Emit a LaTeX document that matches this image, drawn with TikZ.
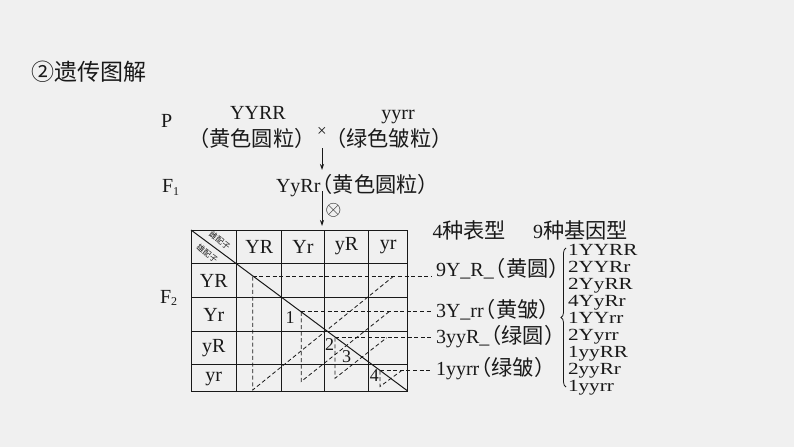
\documentclass[tikz,border=0pt]{standalone}
\usepackage{fontspec}
\setmainfont{Liberation Serif}
\newfontfamily\cjk[Scale=1.06]{Noto Sans CJK SC}
\newfontfamily\cjkt{Noto Sans CJK SC}
\usetikzlibrary{arrows.meta,decorations.pathreplacing}
\newcommand{\zh}[1]{{\cjk #1}}
\newcommand{\lp}{\hbox to 0.62em{\hss\cjk （}}
\newcommand{\rp}{\hbox to 0.62em{\cjk ）\hss}}
\definecolor{bg}{RGB}{240,240,240}
\definecolor{ink}{RGB}{25,25,25}
\tikzset{
  txt/.style={inner sep=0pt,outer sep=0pt,text=ink,font=\fontsize{20}{20}\selectfont},
  small/.style={txt,font=\fontsize{18}{18}\selectfont},
  grid/.style={draw=ink,line width=1pt},
  dsh/.style={draw=ink,line width=0.8pt,dash pattern=on 4pt off 2.6pt},
  arr/.style={draw=ink,line width=0.8pt,-{Stealth[length=6pt,width=4pt]}},
  corner/.style={inner sep=0pt,text=ink,font=\fontsize{8}{8}\selectfont\cjkt,rotate=-36.6},
  lst/.style={txt,font=\fontsize{20}{20}\selectfont,align=left,xscale=1.06,yscale=0.85},
  bracestyle/.style={draw=ink,line width=0.8pt,decorate,decoration={brace,amplitude=5pt}}
}
\begin{document}
\begin{tikzpicture}[x=1pt,y=-1pt]
\fill[bg] (0,0) rectangle (794,447);
\useasboundingbox (0,0) rectangle (794,447);
% title
\node[txt,anchor=west,font=\fontsize{23}{23}\selectfont\cjkt] (title) at (31,72) {②遗传图解};
% P generation
\node[txt,anchor=base west] (P) at (161,127.5) {P};
\node[txt,anchor=base] (p1) at (258,119.3) {YYRR};
\node[txt,anchor=west] (p1c) at (197,138.3) {\lp\zh{黄色圆粒}\rp};
\node[txt,font=\fontsize{17}{17}\selectfont] (cross) at (322,132) {×};
\node[txt,anchor=base] (p2) at (398,119.3) {yyrr};
\node[txt,anchor=west] (p2c) at (334,138.3) {\lp\zh{绿色皱粒}\rp};
% F1
\node[txt,anchor=base west] (F1) at (162,192.5) {F\raisebox{-0.3ex}{\fontsize{12}{12}\selectfont 1}};
\node[txt,anchor=base west] (f1g) at (276,192.5) {YyRr\lp\zh{黄色圆粒}\rp};
\coordinate (a1s) at (322,148);
\coordinate (a1e) at (322,170);
\draw[arr] (a1s) -- (a1e);
\coordinate (a2s) at (322,191);
\coordinate (a2e) at (322,226);
\draw[arr] (a2s) -- (a2e);
\node[txt,font=\fontsize{20}{20}\selectfont] (self) at (333.5,210) {$\otimes$};
% F2
\node[txt,anchor=base west] (F2) at (160,303) {F\raisebox{-0.3ex}{\fontsize{12}{12}\selectfont 2}};
% table
\coordinate (tl) at (191,230);
\coordinate (br) at (407.7,391);
\draw[grid] (tl) rectangle (br);
\foreach \x in {236.7,281.7,324.3,368.7} \draw[grid] (\x,230) -- (\x,391);
\foreach \y in {263.3,297.3,331,364.7} \draw[grid] (191,\y) -- (407.7,\y);
\draw[grid] (tl) -- (br);
\node[corner] (ci) at (219.8,240.4) {雌配子};
\node[corner] (xi) at (207.2,253.4) {雄配子};
% headers
\node[txt] (cYR) at (259.2,246.5) {YR};
\node[txt] (cYr) at (303,246.5) {Yr};
\node[txt] (cyR) at (346.5,246.5) {yR};
\node[txt] (cyr) at (388.2,246.5) {yr};
\node[txt] (rYR) at (213.8,280.5) {YR};
\node[txt] (rYr) at (213.8,314.5) {Yr};
\node[txt] (ryR) at (213.8,348) {yR};
\node[txt] (ryr) at (213.8,378.5) {yr};
% numbers
\node[small] (n1) at (290,317.5) {1};
\node[small] (n2) at (329.5,344.5) {2};
\node[small] (n3) at (346.7,356.5) {3};
\node[small] (n4) at (374.3,376) {4};
% right labels
\node[txt,anchor=west] (L1) at (436,268.3) {9Y\_R\_\lp\zh{黄圆}\rp};
\node[txt,anchor=west] (L2) at (436,310) {3Y\_rr\lp\zh{黄皱}\rp};
\node[txt,anchor=west] (L3) at (436,336.7) {3yyR\_\lp\zh{绿圆}\rp};
\node[txt,anchor=west] (L4) at (436,368.3) {1yyrr\lp\zh{绿皱}\rp};
% dashed triangles
\coordinate (t1a) at (252.7,276.7); \coordinate (t1b) at (252.7,390); \coordinate (t1c) at (393,276.7);
\coordinate (t2a) at (301.2,311.8); \coordinate (t2b) at (301.2,381.5); \coordinate (t2c) at (389,311.8);
\coordinate (t3a) at (335,337.7); \coordinate (t3b) at (335,378.3); \coordinate (t3c) at (386.7,337.7);
\coordinate (t4a) at (380,370.5); \coordinate (t4b) at (380,386.5); \coordinate (t4c) at (401.7,370.5);
\draw[dsh] (t1a) -- (t1b) -- (t1c);
\draw[dsh] (t2a) -- (t2b) -- (t2c);
\draw[dsh] (t3a) -- (t3b) -- (t3c);
\draw[dsh] (t4a) -- (t4b) -- (t4c);
\coordinate (e1) at (431,276.7);
\coordinate (e2) at (431,311.8);
\coordinate (e3) at (431,337.7);
\coordinate (e4) at (431,370.5);
\draw[dsh] (t1a) -- (e1);
\draw[dsh] (t2a) -- (e2);
\draw[dsh] (t3a) -- (e3);
\draw[dsh] (t4a) -- (e4);
% header right
\node[txt,anchor=west] (h1) at (432.5,230) {4\zh{种表型}};
\node[txt,anchor=west] (h2) at (533,230) {9\zh{种基因型}};
% brace and list
\coordinate (bt) at (566,387);
\coordinate (bb) at (566,248);
\draw[bracestyle] (bt) -- (bb);
\node[lst,anchor=north west] (list) at (568,244.5) {1YYRR\\2YYRr\\2YyRR\\4YyRr\\1YYrr\\2Yyrr\\1yyRR\\2yyRr\\1yyrr};
\end{tikzpicture}
\end{document}
